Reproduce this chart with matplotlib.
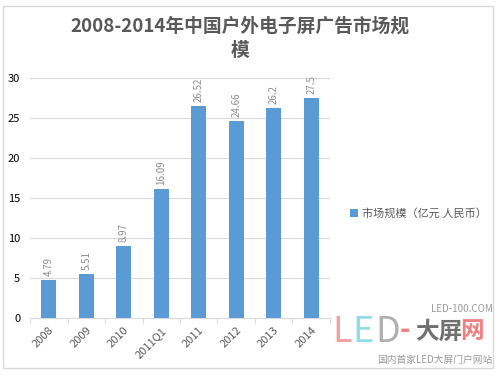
import matplotlib.pyplot as plt
from matplotlib.patches import Rectangle

plt.rcParams['font.family'] = ['Noto Sans CJK SC', 'DejaVu Sans']

years = ['2008', '2009', '2010', '2011Q1', '2011', '2012', '2013', '2014']
values = [4.79, 5.51, 8.97, 16.09, 26.52, 24.66, 26.2, 27.5]
labels = ['4.79', '5.51', '8.97', '16.09', '26.52', '24.66', '26.2', '27.5']

fig = plt.figure(figsize=(5, 3.76), dpi=100)
fig.patches.append(Rectangle((0.006, 0.02), 0.98, 0.965, transform=fig.transFigure,
                             fill=False, edgecolor='#d9d9d9', lw=1))

ax = fig.add_axes([0.06, 0.154, 0.60, 0.639])
x = range(len(years))
ax.bar(x, values, width=0.4, color='#5b9bd5', zorder=3, label='市场规模（亿元 人民币）')
for i, v in enumerate(values):
    ax.text(i, v + 0.5, labels[i], rotation=90, ha='center', va='bottom',
            fontsize=7, color='#8c8c8c')

ax.set_ylim(0, 30)
ax.set_xlim(-0.5, len(years) - 0.5)
ax.set_yticks(range(0, 31, 5))
ax.set_xticks(list(x))
ax.set_xticks([i + 0.5 for i in range(-1, len(years))], minor=True)
ax.set_xticklabels(years, rotation=45, ha='right', rotation_mode='anchor',
                   fontsize=8, color='#595959')
ax.tick_params(axis='y', length=0, labelsize=8, colors='#000000', pad=7)
ax.tick_params(axis='x', which='major', length=0, pad=5)
ax.tick_params(axis='x', which='minor', length=4, color='#d9d9d9')
ax.grid(axis='y', color='#d9d9d9', lw=0.8, zorder=0)
for s in ['top', 'right', 'left']:
    ax.spines[s].set_visible(False)
ax.spines['bottom'].set_color('#d9d9d9')

fig.text(0.48, 0.93, '2008-2014年中国户外电子屏广告市场规', ha='center', va='center',
         fontsize=13.5, fontweight='bold', color='#595959')
fig.text(0.48, 0.865, '模', ha='center', va='center',
         fontsize=13.5, fontweight='bold', color='#595959')

fig.legend(loc='center left', bbox_to_anchor=(0.68, 0.433), frameon=False,
           fontsize=8, handlelength=0.7, handleheight=0.7, handletextpad=0.4,
           labelcolor='#595959')

# watermark
fig.text(0.985, 0.17, 'LED-100.COM', ha='right', fontsize=7, color='#999999')
fig.text(0.665, 0.09, 'L', fontsize=26, color='#f4a0a0')
fig.text(0.705, 0.09, 'E', fontsize=26, color='#8fdde8')
fig.text(0.75, 0.09, 'D', fontsize=26, color='#b0b0b0')
fig.text(0.80, 0.1, '-', fontsize=20, color='#f08080', fontweight='bold')
fig.text(0.83, 0.1, '大屏', fontsize=17, color='#707070', fontweight='bold')
fig.text(0.92, 0.1, '网', fontsize=17, color='#f08080', fontweight='bold')
fig.text(0.985, 0.035, '国内首家LED大屏门户网站', ha='right', fontsize=7, color='#999999')

fig.savefig('out.png', dpi=100)
